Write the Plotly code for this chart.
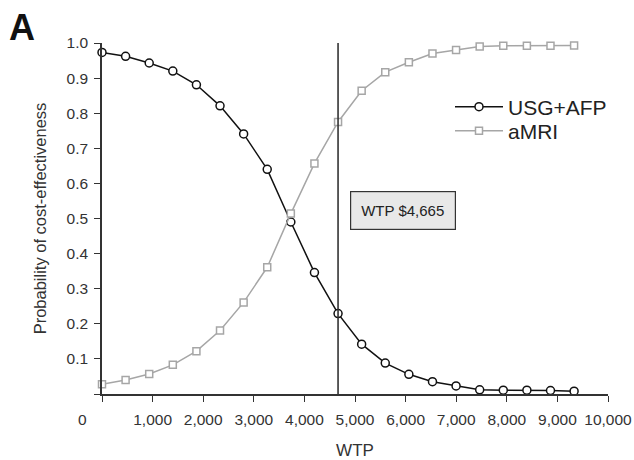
import plotly.graph_objects as go

wtp_step = 466.5
wtp = [i * wtp_step for i in range(21)]
usg_afp = [0.973, 0.962, 0.943, 0.920, 0.881, 0.821, 0.741, 0.640, 0.490, 0.346,
           0.229, 0.142, 0.088, 0.056, 0.035, 0.023, 0.012, 0.011, 0.011, 0.010, 0.008]
amri = [0.028, 0.040, 0.057, 0.083, 0.122, 0.181, 0.261, 0.361, 0.514, 0.657,
        0.775, 0.864, 0.917, 0.945, 0.970, 0.980, 0.990, 0.992, 0.992, 0.992, 0.993]
wtp_threshold = 4665
x_ticks = [0, 1000, 2000, 3000, 4000, 5000, 6000, 7000, 8000, 9000, 10000]
x_ticklabels = ["", "1,000", "2,000", "3,000", "4,000", "5,000", "6,000", "7,000", "8,000", "9,000", "10,000"]
y_ticks = [0, 0.1, 0.2, 0.3, 0.4, 0.5, 0.6, 0.7, 0.8, 0.9, 1.0]
y_ticklabels = ["", "0.1", "0.2", "0.3", "0.4", "0.5", "0.6", "0.7", "0.8", "0.9", "1.0"]

FONT = "Arial, Liberation Sans, Helvetica, sans-serif"
TICK_SIZE = 15.5

L, R, T, B = 102, 26, 43, 66
W, H = 634, 460
pw, ph = W - L - R, H - T - B


def px_x(px):
    return (px - L) / pw


def px_y(py):
    return (H - B - py) / ph


fig = go.Figure()
fig.add_trace(go.Scatter(
    x=wtp, y=usg_afp, mode="lines+markers", name="USG+AFP", legend="legend",
    line=dict(color="#111111", width=1.5),
    marker=dict(symbol="circle", size=8, color="white", line=dict(color="#111111", width=1.5)),
    cliponaxis=False,
))
fig.add_trace(go.Scatter(
    x=wtp, y=amri, mode="lines+markers", name="aMRI", legend="legend2",
    line=dict(color="#a6a6a6", width=1.5),
    marker=dict(symbol="square", size=7, color="white", line=dict(color="#a6a6a6", width=1.5)),
    cliponaxis=False,
))

fig.add_shape(type="line", x0=wtp_threshold, x1=wtp_threshold, y0=0, y1=1.0,
              xref="x", yref="y", line=dict(color="#333333", width=1.6))

fig.add_annotation(x=px_x(403), y=px_y(210), xref="paper", yref="paper",
                   xanchor="center", yanchor="middle", text="WTP $4,665",
                   showarrow=False, font=dict(family=FONT, size=15, color="#222222"),
                   bgcolor="#e8e8e8", bordercolor="#333333", borderwidth=1.2,
                   borderpad=10)
fig.add_annotation(x=px_x(82), y=px_y(420), xref="paper", yref="paper",
                   xanchor="center", yanchor="middle", text="0", showarrow=False,
                   font=dict(family=FONT, size=TICK_SIZE, color="#333333"))
fig.add_annotation(x=px_x(22), y=px_y(27), xref="paper", yref="paper",
                   xanchor="center", yanchor="middle", text="<b>A</b>", showarrow=False,
                   font=dict(family=FONT, size=36, color="#111111"))

legend_common = dict(xanchor="left", yanchor="middle",
                     font=dict(family=FONT, size=21, color="#222222"),
                     bgcolor="rgba(0,0,0,0)", itemwidth=48)

fig.update_layout(
    width=W, height=H,
    margin=dict(l=L, r=R, t=T, b=B, pad=0, autoexpand=False),
    paper_bgcolor="white", plot_bgcolor="white",
    font=dict(family=FONT, color="#333333"),
    showlegend=True,
    legend=dict(x=px_x(450), y=px_y(107), **legend_common),
    legend2=dict(x=px_x(450), y=px_y(131), **legend_common),
    xaxis=dict(range=[0, 10000], tickvals=x_ticks, ticktext=x_ticklabels, automargin=False,
               showgrid=False, zeroline=False, showline=True, linecolor="#333333",
               linewidth=1.6, ticks="outside", ticklen=6, tickwidth=1.3, tickcolor="#333333",
               ticklabelstandoff=5,
               tickfont=dict(family=FONT, size=TICK_SIZE, color="#333333"),
               title=dict(text="WTP", font=dict(family=FONT, size=17, color="#333333"), standoff=18)),
    yaxis=dict(range=[0, 1.0], tickvals=y_ticks, ticktext=y_ticklabels, automargin=False,
               showgrid=False, zeroline=False, showline=True, linecolor="#333333",
               linewidth=1.6, ticks="outside", ticklen=6, tickwidth=1.3, tickcolor="#333333",
               ticklabelstandoff=3,
               tickfont=dict(family=FONT, size=TICK_SIZE, color="#333333"),
               title=dict(text="Probability of cost-effectiveness",
                          font=dict(family=FONT, size=16.5, color="#333333"), standoff=16)),
)

fig.write_html("out.html", config={"displayModeBar": False},
               post_script="document.body.style.margin='0px';")
